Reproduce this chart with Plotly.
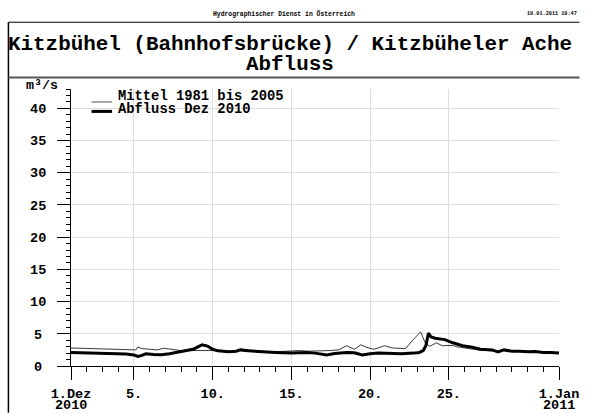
import plotly.graph_objects as go

# Mean discharge 1981-2005 (m³/s)
mittel_t = [
    "2010-12-01 00:00", "2010-12-02 00:00", "2010-12-03 00:00", "2010-12-04 00:00",
    "2010-12-04 18:00", "2010-12-05 03:00", "2010-12-05 06:00", "2010-12-05 12:00",
    "2010-12-06 00:00", "2010-12-06 12:00", "2010-12-06 21:00", "2010-12-07 06:00",
    "2010-12-08 00:00", "2010-12-08 12:00", "2010-12-09 00:00", "2010-12-09 12:00",
    "2010-12-10 00:00", "2010-12-10 12:00", "2010-12-11 00:00", "2010-12-11 12:00",
    "2010-12-11 18:00", "2010-12-12 06:00", "2010-12-13 00:00", "2010-12-14 00:00",
    "2010-12-15 00:00", "2010-12-15 12:00", "2010-12-16 00:00", "2010-12-17 00:00",
    "2010-12-17 12:00", "2010-12-18 00:00", "2010-12-18 12:00", "2010-12-19 00:00",
    "2010-12-19 10:00", "2010-12-19 18:00", "2010-12-20 06:00", "2010-12-20 12:00",
    "2010-12-20 22:00", "2010-12-21 10:00", "2010-12-21 20:00", "2010-12-22 06:00",
    "2010-12-22 16:00", "2010-12-23 05:00", "2010-12-23 12:00", "2010-12-23 19:00",
    "2010-12-24 05:00", "2010-12-24 14:00", "2010-12-25 05:00", "2010-12-25 12:00",
    "2010-12-26 00:00", "2010-12-26 12:00", "2010-12-27 00:00", "2010-12-27 12:00",
    "2010-12-28 00:00", "2010-12-28 12:00", "2010-12-29 00:00", "2010-12-29 12:00",
    "2010-12-30 00:00", "2010-12-30 12:00", "2010-12-31 00:00", "2010-12-31 12:00",
    "2011-01-01 00:00",
]
mittel_q = [
    2.8, 2.75, 2.7, 2.6,
    2.5, 2.5, 2.95, 2.7,
    2.6, 2.5, 2.75, 2.6,
    2.4, 2.4, 2.35, 2.4,
    2.4, 2.3, 2.3, 2.4,
    2.6, 2.5, 2.3, 2.2,
    2.3, 2.4, 2.3, 2.3,
    2.4, 2.5, 3.15, 2.6,
    3.3, 2.9, 2.6, 2.8,
    3.15, 2.8, 2.7, 2.7,
    3.9, 5.3, 3.6, 3.05,
    3.6, 3.15, 3.2, 3.0,
    2.8, 2.6, 2.45, 2.4,
    2.3, 2.4, 2.3, 2.25,
    2.3, 2.2, 2.2, 2.1,
    2.1,
]

# Discharge December 2010 (m³/s)
abfluss_t = [
    "2010-12-01 00:00", "2010-12-02 00:00", "2010-12-03 00:00", "2010-12-04 00:00",
    "2010-12-04 12:00", "2010-12-05 00:00", "2010-12-05 06:00", "2010-12-05 12:00",
    "2010-12-05 18:00", "2010-12-06 06:00", "2010-12-06 18:00", "2010-12-07 06:00",
    "2010-12-07 18:00", "2010-12-08 06:00", "2010-12-08 18:00", "2010-12-09 00:00",
    "2010-12-09 08:00", "2010-12-09 16:00", "2010-12-10 00:00", "2010-12-10 08:00",
    "2010-12-11 00:00", "2010-12-11 12:00", "2010-12-11 18:00", "2010-12-12 06:00",
    "2010-12-13 00:00", "2010-12-14 00:00", "2010-12-15 00:00", "2010-12-16 00:00",
    "2010-12-16 12:00", "2010-12-17 00:00", "2010-12-17 06:00", "2010-12-17 18:00",
    "2010-12-18 12:00", "2010-12-19 00:00", "2010-12-19 12:00", "2010-12-20 00:00",
    "2010-12-20 12:00", "2010-12-21 12:00", "2010-12-22 00:00", "2010-12-22 18:00",
    "2010-12-23 03:00", "2010-12-23 09:00", "2010-12-23 13:00", "2010-12-23 17:00",
    "2010-12-23 21:00", "2010-12-24 03:00", "2010-12-24 12:00", "2010-12-24 18:00",
    "2010-12-25 06:00", "2010-12-25 21:00", "2010-12-26 12:00", "2010-12-27 00:00",
    "2010-12-27 18:00", "2010-12-28 03:00", "2010-12-28 12:00", "2010-12-29 00:00",
    "2010-12-29 12:00", "2010-12-30 00:00", "2010-12-30 12:00", "2010-12-31 00:00",
    "2010-12-31 12:00", "2011-01-01 00:00",
]
abfluss_q = [
    2.1, 2.05, 2.0, 1.9,
    1.85, 1.7, 1.5, 1.65,
    1.9, 1.8, 1.75, 1.9,
    2.1, 2.4, 2.6, 2.9,
    3.3, 3.1, 2.6, 2.35,
    2.2, 2.3, 2.5, 2.35,
    2.2, 2.1, 2.0, 2.1,
    2.0, 1.75, 1.7, 1.95,
    2.1, 2.05, 1.7, 1.9,
    2.0, 1.95, 1.9, 2.0,
    2.1, 2.4, 3.15, 5.1,
    4.5, 4.3, 4.2, 4.1,
    3.6, 3.15, 2.9, 2.6,
    2.5, 2.2, 2.5, 2.3,
    2.3, 2.2, 2.25, 2.1,
    2.1, 2.0,
]

x_tickvals = ["2010-12-01", "2010-12-05", "2010-12-10", "2010-12-15",
              "2010-12-20", "2010-12-25", "2011-01-01"]
x_ticktext = ["1.Dez", "5.", "10.", "15.", "20.", "25.", "1.Jan"]
year_pos = ["2010-12-01", "2011-01-01"]
year_text = ["2010", "2011"]
y_tickvals = [0, 5, 10, 15, 20, 25, 30, 35, 40]

series_names = ["Mittel 1981 bis 2005", "Abfluss Dez 2010"]
title_line1 = "Kitzbühel (Bahnhofsbrücke) / Kitzbüheler Ache"
title_line2 = "Abfluss"
header_center = "Hydrographischer Dienst in Österreich"
header_right = "19.01.2011 10:47"
unit_label = "m³/s"

FONT = "Liberation Mono, Courier New, monospace"
W, H = 591, 414
L, R, T, B = 71, 570, 89, 367   # plot area in pixels


def px(x):
    return (x - L) / (R - L)


def py(y):
    return (B - y) / (B - T)


def ylabel(v):
    s = str(v)
    if len(s) == 1:
        # pad single digits so labels sit centred under the wider ones
        s += "<span style='font-size:7px'>\u00a0</span>"
    return s


fig = go.Figure()
fig.add_trace(go.Scatter(x=mittel_t, y=mittel_q, mode="lines", name=series_names[0],
                         line=dict(color="#3a3a3a", width=1), showlegend=False))
fig.add_trace(go.Scatter(x=abfluss_t, y=abfluss_q, mode="lines", name=series_names[1],
                         line=dict(color="black", width=3), showlegend=False))

tickfont = dict(family=FONT, size=13.5, color="black", weight="bold")

fig.update_layout(
    width=W, height=H,
    margin=dict(l=L, r=W - R, t=T, b=H - B),
    paper_bgcolor="white", plot_bgcolor="white",
    font=dict(family=FONT, color="black"),
    xaxis=dict(
        type="date", range=["2010-12-01", "2011-01-01"],
        tickmode="array", tickvals=x_tickvals, ticktext=x_ticktext,
        ticks="outside", ticklen=13, tickwidth=1, tickcolor="black",
        ticklabelstandoff=2,
        minor=dict(dtick=86400000, tick0="2010-12-01", ticks="outside",
                   ticklen=5, tickcolor="black", showgrid=False),
        showgrid=True, gridcolor="#dddddd", gridwidth=1,
        showline=True, linecolor="black", linewidth=1,
        zeroline=False, tickfont=tickfont,
    ),
    yaxis=dict(
        range=[0, 43], tickmode="array", tickvals=y_tickvals,
        ticktext=[ylabel(v) for v in y_tickvals],
        ticks="outside", ticklen=13, tickwidth=1, tickcolor="black",
        ticklabelstandoff=8,
        minor=dict(dtick=1, tick0=0, ticks="outside", ticklen=4,
                   tickcolor="black", showgrid=False),
        showgrid=True, gridcolor="#dddddd", gridwidth=1,
        showline=True, linecolor="black", linewidth=1,
        zeroline=False, tickfont=tickfont,
    ),
)

# frame around the header block
fig.add_shape(type="line", xref="paper", yref="paper",
              x0=px(7), x1=px(591), y0=py(22), y1=py(22),
              line=dict(color="black", width=1))
fig.add_shape(type="line", xref="paper", yref="paper",
              x0=px(7), x1=px(7), y0=py(22), y1=py(414),
              line=dict(color="black", width=1.5))
fig.add_shape(type="line", xref="paper", yref="paper",
              x0=px(7), x1=px(591), y0=py(77.5), y1=py(77.5),
              line=dict(color="#555555", width=2))

# legend samples
fig.add_shape(type="line", xref="paper", yref="paper",
              x0=px(92), x1=px(113), y0=py(102), y1=py(102),
              line=dict(color="#555555", width=1))
fig.add_shape(type="line", xref="paper", yref="paper",
              x0=px(92), x1=px(113), y0=py(111.5), y1=py(111.5),
              line=dict(color="black", width=3))


def text(s, x, y, size, xanchor="center", yanchor="middle", xref="paper"):
    fig.add_annotation(text=s, xref=xref, yref="paper",
                       x=px(x) if xref == "paper" else x, y=py(y),
                       xanchor=xanchor, yanchor=yanchor, showarrow=False,
                       borderpad=0,
                       font=dict(family=FONT, size=size, color="black", weight="bold"))


text(header_center, 289, 14, 6.4)
text(header_right, 589, 14, 5.2, xanchor="right")
text(title_line1, 295, 44, 20.9)
text(title_line2, 295, 64, 20.9)
text(unit_label, 41, 85, 13.3)
text(series_names[0], 118, 97, 13.8, xanchor="left")
text(series_names[1], 118, 109.5, 13.8, xanchor="left")

# year under the first and last date label
for pos, yr in zip(year_pos, year_text):
    text(yr, pos, 415, 13.5, yanchor="bottom", xref="x")

fig.write_html("out.html")
